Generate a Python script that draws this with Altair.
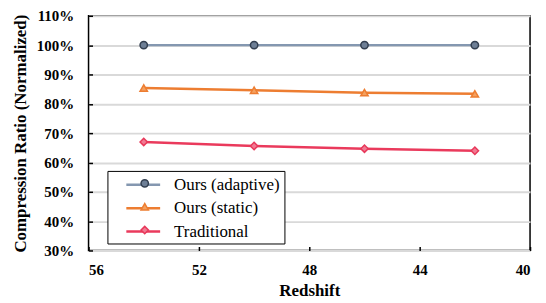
import altair as alt
import pandas as pd

# ---- data ----
redshift = [54, 50, 46, 42]
adaptive = [100.0, 100.0, 100.0, 100.0]
static = [85.4, 84.6, 83.8, 83.4]
traditional = [67.0, 65.6, 64.7, 64.0]
series_names = ["Ours (adaptive)", "Ours (static)", "Traditional"]
x_ticks = [56, 52, 48, 44, 40]
y_ticks = [30, 40, 50, 60, 70, 80, 90, 100, 110]

# ---- styles ----
line_colors = ["#8497B0", "#ED7D31", "#EA3A5C"]
marker_fill = ["#6E7F96", "#F4A15F", "#F07A93"]
marker_stroke = ["#333F50", "#ED7D31", "#E8385A"]
shapes = ["circle", "triangle-up", "diamond"]
FONT = "Liberation Serif"

rows = []
for name, vals in zip(series_names, [adaptive, static, traditional]):
    for xv, v in zip(redshift, vals):
        rows.append({"Redshift": xv, "Ratio": v, "Method": name, "MethodP": name})
df = pd.DataFrame(rows)

x_enc = alt.X(
    "Redshift:Q",
    scale=alt.Scale(domain=[40, 56], reverse=True, nice=False, zero=False),
    axis=alt.Axis(values=x_ticks, title="Redshift", grid=False, offset=-4,
                  tickSize=4, labelPadding=12, titlePadding=5, format="d"),
)
y_enc = alt.Y(
    "Ratio:Q",
    scale=alt.Scale(domain=[30, 110], nice=False, zero=False),
    axis=alt.Axis(values=y_ticks, labelExpr="datum.value + '%'",
                  title="Compression Ratio (Normalized)", grid=True,
                  gridColor="#D9D9D9", gridWidth=2, offset=-4, tickSize=4,
                  labelPadding=15, titlePadding=7),
)

LEG_X = 19
LEG_Y = 156

base = alt.Chart(df)

lines = base.mark_line(strokeWidth=2.5).encode(
    x=x_enc,
    y=y_enc,
    color=alt.Color(
        "Method:N",
        scale=alt.Scale(range=line_colors),
        legend=alt.Legend(
            title=None, orient="none", legendX=LEG_X, legendY=LEG_Y,
            symbolType="M-2,0L2,0", symbolSize=289, symbolStrokeWidth=2.5,
            strokeColor="black", fillColor="white", padding=4,
            symbolOffset=22, labelOffset=21,
            labelFont=FONT, labelFontSize=17, labelColor="black",
            labelExpr="datum.label + '\u00a0\u00a0\u00a0\u00a0\u00a0'",
            rowPadding=5.5, labelLimit=300,
        ),
    ),
)

points = base.mark_point(filled=True, size=55, strokeWidth=1.5, opacity=1).encode(
    x=x_enc,
    y=y_enc,
    shape=alt.Shape("MethodP:N", scale=alt.Scale(range=shapes),
                    legend=alt.Legend(
                        title=None, orient="none", legendX=LEG_X + 25, legendY=LEG_Y,
                        padding=4, symbolSize=55, symbolStrokeWidth=1.5,
                        labelFont=FONT, labelFontSize=17,
                        labelExpr="'\u00a0'",
                        rowPadding=5.5, labelLimit=300,
                    )),
    fill=alt.Fill("MethodP:N", scale=alt.Scale(range=marker_fill), legend=None),
    stroke=alt.Stroke("MethodP:N", scale=alt.Scale(range=marker_stroke), legend=None),
)

chart = (
    alt.layer(lines, points)
    .properties(
        width=444, height=236,
        autosize=alt.AutoSizeParams(type="none"),
        padding={"left": 81, "top": 7, "right": 8, "bottom": 52},
    )
    .configure_view(stroke="black", strokeWidth=1.5)
    .configure_axis(
        domain=False, tickColor="black", tickWidth=1.5,
        labelFont=FONT, labelFontSize=15, labelFontWeight="bold", labelColor="black",
        titleFont=FONT, titleFontSize=17, titleFontWeight="bold", titleColor="black",
    )
    .configure_legend(symbolOpacity=1)
)

chart.save("out.html", embed_options={"renderer": "svg", "actions": False})
